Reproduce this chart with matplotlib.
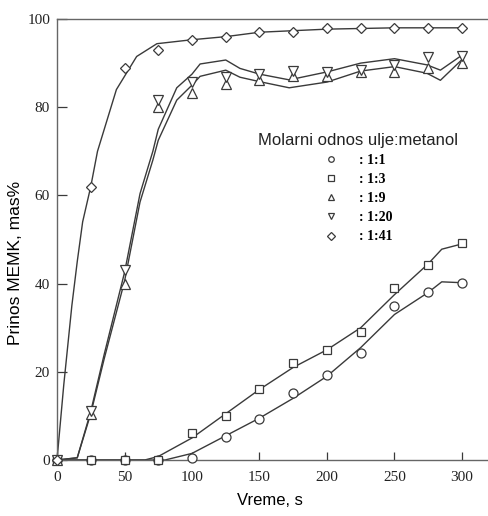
import matplotlib
matplotlib.use("Agg")
import matplotlib.pyplot as plt
from matplotlib.lines import Line2D

# measured points
time_s = [0, 25, 50, 75, 100, 125, 150, 175, 200, 225, 250, 275, 300]
y_1_1 = [0, 0, 0, 0, 0.5, 5.2, 9.3, 15.2, 19.3, 24.2, 35, 38.2, 40.1]
y_1_3 = [0, 0, 0, 0, 6.1, 10, 16.1, 22, 24.9, 29.1, 39, 44.2, 49.2]
y_1_9 = [0, 10.5, 40, 80, 83.3, 85.3, 86.2, 87.1, 87, 88, 88, 89, 90]
y_1_20 = [0, 11, 43, 81.6, 85.7, 86.8, 87.5, 88.2, 88, 88.5, 89.6, 91.4, 91.6]
y_1_41 = [0, 61.9, 88.9, 93, 95.2, 96, 97, 97.1, 98, 98, 98, 98, 98]

# fitted curves as drawn in the original
fit_1_1_x = [0, 80, 100, 125, 150, 175, 200, 225, 250, 275, 285, 300]
fit_1_1_y = [0, 0, 1.5, 5.5, 9.5, 14, 19, 25.5, 33, 38, 40.4, 40.2]
fit_1_3_x = [0, 65, 75, 100, 125, 150, 175, 200, 225, 250, 275, 285, 300]
fit_1_3_y = [0, 0, 0.8, 5, 10.5, 16, 21, 25, 30, 37.5, 44.5, 47.8, 49]
fit_1_9_x = [0, 15, 25, 35, 50, 61.5, 71, 75, 88.7, 100, 106, 125, 135.5,
             150, 172, 200, 225, 250, 274, 284, 300]
fit_1_9_y = [0, 0.5, 10.5, 23, 40.5, 58.5, 68, 72.5, 81.6, 85, 87, 88.4,
             86.8, 85.8, 84.4, 85.7, 88.2, 89.2, 87.7, 86.1, 90.8]
fit_1_20_x = [0, 15, 25, 35, 50, 61.5, 71, 75, 88.7, 100, 106, 125, 135.5,
              150, 172, 200, 225, 250, 274, 284, 300]
fit_1_20_y = [0, 0.5, 11, 24, 42.5, 60.4, 70, 75, 84.4, 87.5, 89.8, 90.7,
              88.8, 87.5, 86.2, 88, 90, 91, 89.6, 88.4, 91.8]
fit_1_41_x = [0, 5, 11, 15, 19, 25, 30, 44, 59, 74, 100, 125, 150, 200, 250, 300]
fit_1_41_y = [0, 17, 35, 45, 54, 62, 70, 84, 91.5, 94.4, 95.3, 96, 97, 97.7, 98, 98]

labels = [": 1:1", ": 1:3", ": 1:9", ": 1:20", ": 1:41"]
markers = ["o", "s", "^", "v", "D"]
marker_sizes = [6.5, 5.5, 6.5, 6.5, 5.5]

line_col = "#3a3a3a"
serif = ["Liberation Serif", "DejaVu Serif"]
sans = ["Liberation Sans", "DejaVu Sans"]

fig = plt.figure(figsize=(4.89, 5.16), dpi=100)
ax = fig.add_axes([57 / 489, 56 / 516, 432 / 489, 441 / 516])

fits = [(fit_1_1_x, fit_1_1_y), (fit_1_3_x, fit_1_3_y), (fit_1_9_x, fit_1_9_y),
        (fit_1_20_x, fit_1_20_y), (fit_1_41_x, fit_1_41_y)]
for fx, fy in fits:
    ax.plot(fx, fy, color=line_col, lw=1.0, clip_on=False)

series = [y_1_1, y_1_3, y_1_9, y_1_20, y_1_41]
for ys, m, ms in zip(series, markers, marker_sizes):
    ax.plot(time_s, ys, linestyle="none", marker=m, ms=ms, mfc="white",
            mec=line_col, mew=0.9, clip_on=False, zorder=3)

ax.set_xlim(0, 320)
ax.set_ylim(0, 100)
ax.set_xticks([0, 50, 100, 150, 200, 250, 300])
ax.set_yticks([0, 20, 40, 60, 80, 100])
ax.tick_params(axis="x", direction="in", length=6, width=0.9, pad=8,
               color=line_col)
ax.tick_params(axis="y", direction="in", length=7, width=0.9, pad=5,
               color=line_col)
for lab in ax.get_xticklabels() + ax.get_yticklabels():
    lab.set_family(serif)
    lab.set_fontsize(11)
    lab.set_color("#222222")

ax.spines["right"].set_visible(False)
for s in ["left", "bottom", "top"]:
    ax.spines[s].set_color("#666666")
    ax.spines[s].set_linewidth(1.0)

ax.set_xlabel("Vreme, s", family=sans, fontsize=12)
ax.set_ylabel("Prinos MEMK, mas%", family=sans, fontsize=12.5)
ax.xaxis.set_label_coords(0.493, -0.075)
ax.yaxis.set_label_coords(-0.078, 0.447)

handles = [Line2D([], [], linestyle="none", marker=m, ms=4, mfc="white",
                  mec=line_col, mew=0.9) for m in markers]
leg = ax.legend(handles, labels, title="Molarni odnos ulje:metanol",
                loc="upper center", bbox_to_anchor=(358 / 489, 1 - 126 / 516),
                bbox_transform=fig.transFigure, frameon=False,
                handlelength=1.0, handletextpad=1.5, labelspacing=0.45,
                borderpad=0, prop={"family": serif, "weight": "bold", "size": 10},
                title_fontproperties={"family": sans, "size": 12})
leg.get_title().set_color("#222222")
# pull the entries a bit closer to the title
leg._legend_box.sep = 4

fig.savefig("out.png", dpi=100)
